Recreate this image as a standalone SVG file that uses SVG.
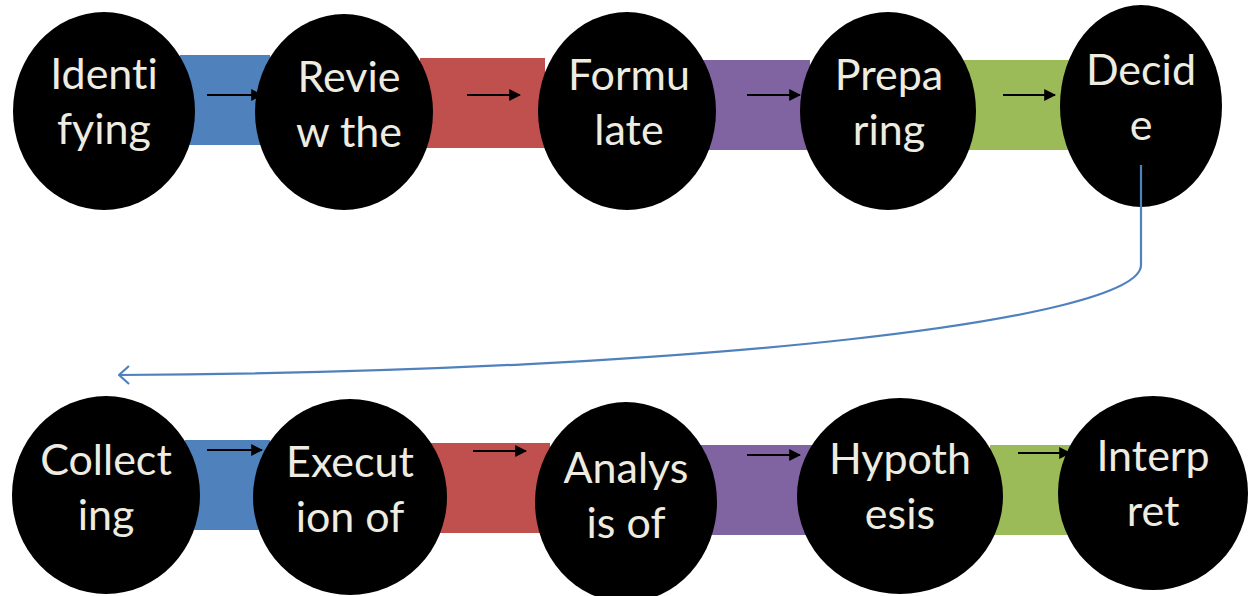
<svg xmlns="http://www.w3.org/2000/svg" width="1248" height="596" viewBox="0 0 1248 596">
<style>
.node{fill:#000}
.lbl{font-family:Lato,"Liberation Sans",sans-serif;font-size:43px;fill:#EEECE1;text-anchor:middle;font-variant-ligatures:none;font-feature-settings:"liga" 0,"clig" 0,"dlig" 0}
.arr{stroke:#000;stroke-width:2;fill:none;marker-end:url(#ah)}
.blue{fill:#4F81BD}.red{fill:#C0504D}.purple{fill:#8064A2}.green{fill:#9BBB59}
</style>
<defs>
<marker id="ah" viewBox="0 0 10 10" refX="9" refY="5" markerWidth="12" markerHeight="12" orient="auto" markerUnits="userSpaceOnUse">
<path d="M0,0 L10,5 L0,10 Z" fill="#000"/>
</marker>
<marker id="open" viewBox="0 0 12 20" refX="11" refY="10" markerWidth="12" markerHeight="20" orient="auto" markerUnits="userSpaceOnUse">
<path d="M1,1 L11,10 L1,19" fill="none" stroke="#4F81BD" stroke-width="2.2"/>
</marker>
</defs>
<rect width="1248" height="596" fill="#fff"/>
<g id="bands">
<rect class="blue" x="180" y="55" width="90" height="90"/>
<rect class="red" x="420" y="58" width="125" height="90"/>
<rect class="purple" x="700" y="60" width="110" height="90"/>
<rect class="green" x="960" y="60" width="115" height="90"/>
<rect class="blue" x="185" y="440" width="85" height="90"/>
<rect class="red" x="430" y="443" width="120" height="90"/>
<rect class="purple" x="700" y="445" width="120" height="90"/>
<rect class="green" x="990" y="445" width="85" height="90"/>
</g>
<g id="n1"><ellipse class="node" cx="104" cy="111" rx="91" ry="99"/><text class="lbl" x="104" y="89">Identi</text><text class="lbl" x="104" y="144">fying</text></g>
<g id="n2"><ellipse class="node" cx="344" cy="112" rx="89" ry="98"/><text class="lbl" x="349" y="92">Revie</text><text class="lbl" x="349" y="147">w the</text></g>
<g id="n3"><ellipse class="node" cx="627" cy="111" rx="89" ry="99"/><text class="lbl" x="629" y="90">Formu</text><text class="lbl" x="629" y="145">late</text></g>
<g id="n4"><ellipse class="node" cx="888" cy="111" rx="88" ry="99"/><text class="lbl" x="889" y="90">Prepa</text><text class="lbl" x="889" y="145">ring</text></g>
<g id="n5"><ellipse class="node" cx="1141" cy="106" rx="81" ry="101"/><text class="lbl" x="1141" y="85">Decid</text><text class="lbl" x="1141" y="140">e</text></g>
<g id="n6"><ellipse class="node" cx="106" cy="495" rx="94" ry="99"/><text class="lbl" x="106" y="475">Collect</text><text class="lbl" x="106" y="530">ing</text></g>
<g id="n7"><ellipse class="node" cx="350" cy="497" rx="97" ry="98"/><text class="lbl" x="350" y="477">Execut</text><text class="lbl" x="350" y="532">ion of</text></g>
<g id="n8"><ellipse class="node" cx="626" cy="502" rx="91" ry="100"/><text class="lbl" x="626" y="483">Analys</text><text class="lbl" x="626" y="538">is of</text></g>
<g id="n9"><ellipse class="node" cx="900" cy="496" rx="103" ry="98"/><text class="lbl" x="900" y="474">Hypoth</text><text class="lbl" x="900" y="529">esis</text></g>
<g id="n10"><ellipse class="node" cx="1153" cy="493" rx="95" ry="97"/><text class="lbl" x="1153" y="471">Interp</text><text class="lbl" x="1153" y="526">ret</text></g>
<g id="connectors">
<line class="arr" x1="207" y1="95" x2="262" y2="95"/>
<line class="arr" x1="467" y1="95" x2="520" y2="95"/>
<line class="arr" x1="747" y1="95" x2="800" y2="95"/>
<line class="arr" x1="1003" y1="95" x2="1055" y2="95"/>
<line class="arr" x1="207" y1="450" x2="262" y2="450"/>
<line class="arr" x1="473" y1="451" x2="526" y2="451"/>
<line class="arr" x1="747" y1="455" x2="800" y2="455"/>
<line class="arr" x1="1018" y1="453" x2="1070" y2="453"/>
<path d="M1141,165 L1141,265 C1141,320 700,372 119,375" fill="none" stroke="#4F81BD" stroke-width="2.2" marker-end="url(#open)"/>
</g>
</svg>
